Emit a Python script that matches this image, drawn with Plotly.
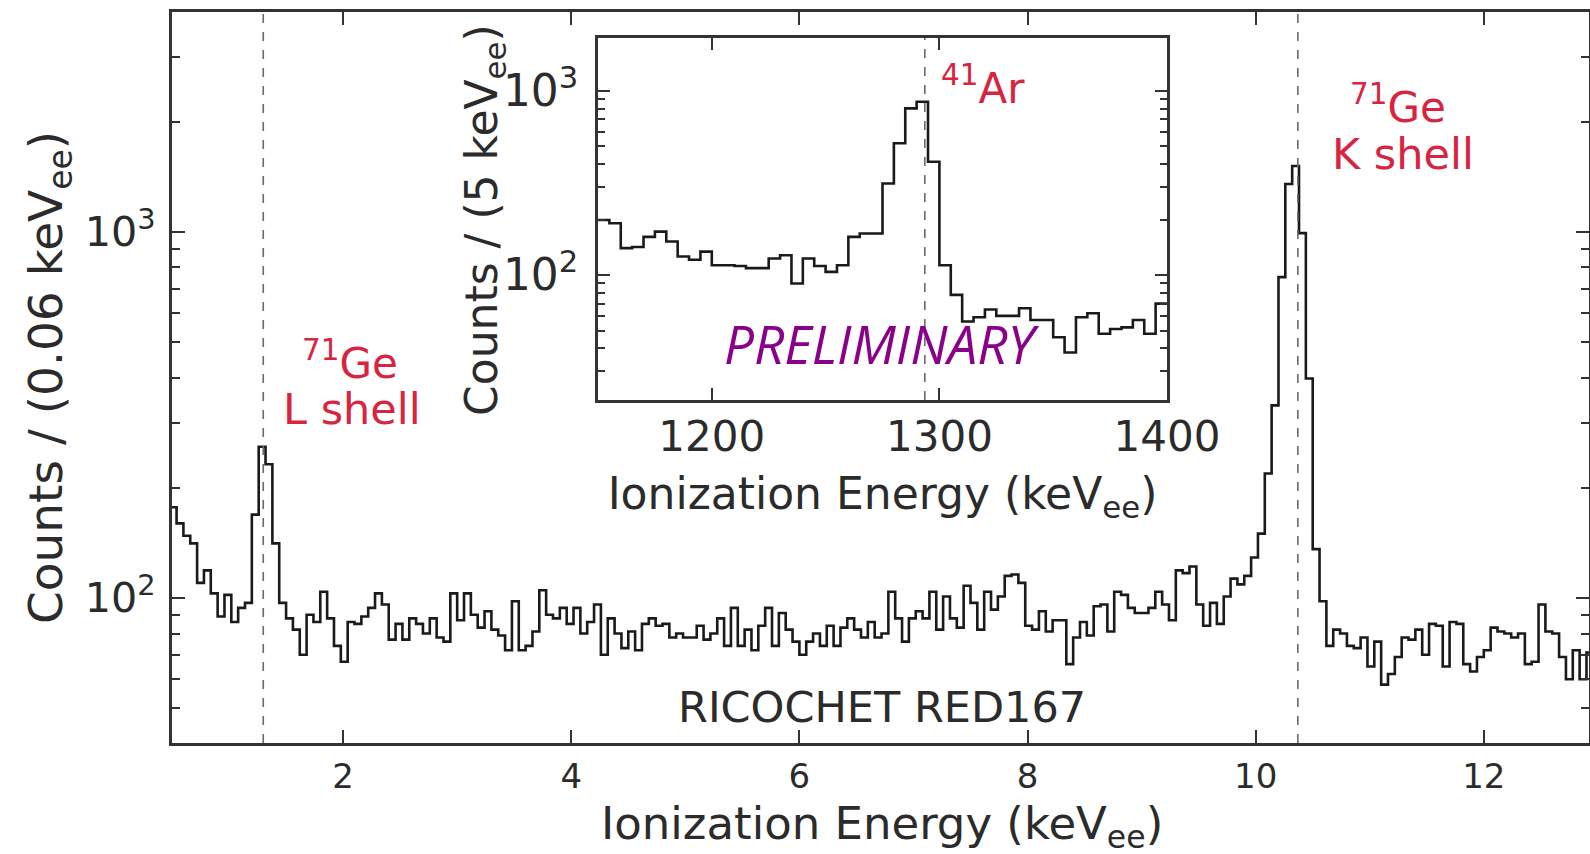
import plotly.graph_objects as go

# ---------------- data ----------------
# Main spectrum: counts per 0.06 keV bin, first bin starts at 0.48 keV
main_bin_start = 0.48
main_bin_width = 0.06
main_counts = [
    177, 160, 148, 141, 110, 119, 103, 89, 102, 86,
    94, 97, 169, 259, 232, 141, 97, 88, 82, 70,
    90, 86, 104, 88, 74, 67, 86, 85, 89, 94,
    103, 96, 77, 85, 77, 88, 85, 80, 88, 78,
    76, 103, 87, 103, 90, 83, 92, 82, 79, 72,
    98, 72, 74,
    81, 105, 90, 88, 94, 85, 94, 80, 86, 96,
    70, 88, 80, 73, 81, 72, 85, 88, 84, 85,
    78, 80, 78, 78, 84, 77, 80, 88, 74, 94,
    74, 82, 72, 84, 94, 74, 91, 82, 76, 70,
    76, 80, 74, 84, 74, 83, 88, 82, 78, 86,
    78, 80, 104, 88, 76, 88, 92, 88, 104, 82,
    101, 88, 83, 108, 97, 82, 104, 93, 101, 115,
    116, 110, 84, 82, 92, 81, 87, 87, 66, 78,
    86, 79, 95, 96, 81, 104, 102, 94, 91, 91,
    94, 104, 96, 87, 119, 117, 122, 96, 84, 97, 85,
    101, 113, 109, 115, 129, 150, 219, 336, 753, 1353,
    1515, 993, 398, 136, 98, 74, 82, 80, 74, 73,
    78, 65, 76, 58, 62, 69, 78, 77, 82, 70,
    85, 84, 65, 86, 85, 66, 63, 69, 72, 83,
    81, 80, 78, 80, 66, 67, 96, 81, 80, 69,
    60, 72, 60, 71,
]
main_lines = [1.3, 10.37]          # 71Ge L and K shell energies (keV)
main_xticks = [2, 4, 6, 8, 10, 12]

# Inset: counts per 5 keV bin from 1150 keV
inset_bin_start = 1150
inset_bin_width = 5
inset_counts = [
    199, 191, 140, 142, 161, 172, 152, 126, 121, 134,
    113, 113, 112, 109, 109, 123, 128, 90, 123, 112,
    104, 113, 161, 168, 168, 314, 519, 802, 871, 412,
    113, 78, 56, 59, 65, 60, 60, 66, 57, 57,
    46, 38, 59, 62, 48, 51, 52, 57, 48, 70,
]
inset_lines = [1293.6]             # 41Ar gamma line (keV)
inset_xticks = [1200, 1300, 1400]

# ---------------- figure ----------------
def edges(start, width, n):
    return [start + width * i for i in range(n + 1)]

main_x = edges(main_bin_start, main_bin_width, len(main_counts))
main_y = main_counts + [main_counts[-1]]
inset_x = edges(inset_bin_start, inset_bin_width, len(inset_counts))
inset_y = inset_counts + [inset_counts[-1]]

FONT = "DejaVu Sans"
TXT = "#2b2b2b"
RED = "#d8243f"
LINE = "#1a1a1a"

fig = go.Figure()
fig.add_trace(go.Scatter(x=main_x, y=main_y, mode="lines", line_shape="hv",
                         line=dict(color=LINE, width=2.6), xaxis="x", yaxis="y",
                         showlegend=False, hoverinfo="skip"))
fig.add_trace(go.Scatter(x=inset_x, y=inset_y, mode="lines", line_shape="hv",
                         line=dict(color=LINE, width=2.6), xaxis="x2", yaxis="y2",
                         showlegend=False, hoverinfo="skip"))

for e in main_lines:
    fig.add_shape(type="line", xref="x", yref="y domain", x0=e, x1=e, y0=0, y1=1,
                  line=dict(color="#6a6a6a", width=1.6, dash="dash"))
for e in inset_lines:
    fig.add_shape(type="line", xref="x2", yref="y2 domain", x0=e, x1=e, y0=0, y1=1,
                  line=dict(color="#6a6a6a", width=1.6, dash="dash"))

axis_common = dict(showline=True, linewidth=2.6, linecolor="#333", mirror="ticks",
                   ticks="inside", tickwidth=2, tickcolor="#333", showgrid=False,
                   zeroline=False, automargin=False)

W, H = 1590, 854
L, R, T, B = 172, 1, 12, 111
pw, ph = W - L - R, H - T - B
ix0, ix1, iy0, iy1 = 598, 1167, 38, 400

fig.update_layout(
    width=W, height=H, margin=dict(l=L, r=R, t=T, b=B, autoexpand=False),
    paper_bgcolor="white", plot_bgcolor="white",
    xaxis=dict(**axis_common, range=[0.5, 0.5 + pw / 114.07], tickvals=main_xticks,
               ticklen=13, ticklabelstandoff=1,
               tickfont=dict(family=FONT, size=34, color=TXT)),
    yaxis=dict(**axis_common, type="log", range=[1.604, 3.601], dtick=1,
               exponentformat="power", ticklen=13, ticklabelstandoff=7,
               tickfont=dict(family=FONT, size=33, color=TXT),
               minor=dict(ticks="inside", ticklen=8, tickwidth=1.6, tickcolor="#333",
                          dtick="D1", showgrid=False),
               title=dict(text="Counts / (0.06 keV<sub>ee</sub>)",
                          font=dict(family=FONT, size=47, color=TXT), standoff=8)),
    xaxis2=dict(**axis_common, anchor="y2",
                domain=[(ix0 - L) / pw, (ix1 - L) / pw],
                range=[1150, 1400], tickvals=inset_xticks, ticklen=12,
                ticklabelstandoff=-2,
                tickfont=dict(family=FONT, size=42, color=TXT),
                title=dict(text="Ionization Energy (keV<sub>ee</sub>)",
                           font=dict(family=FONT, size=44, color=TXT), standoff=18)),
    yaxis2=dict(**axis_common, anchor="x2", type="log",
                domain=[(H - B - iy1) / ph, (H - B - iy0) / ph],
                range=[1.322, 3.286], dtick=1, exponentformat="power",
                ticklen=12, ticklabelstandoff=10,
                tickfont=dict(family=FONT, size=35, color=TXT),
                minor=dict(ticks="inside", ticklen=7, tickwidth=1.6, tickcolor="#333",
                           dtick="D1", showgrid=False)),
)

def dom_x(px):
    return (px - L) / pw

def dom_y(py):
    return (H - B - py) / ph

ann = [
    ("<sup>71</sup>Ge", 350, 360, RED, 42, FONT, 0),
    ("L shell", 352, 409, RED, 43, FONT, 0),
    ("<sup>71</sup>Ge", 1398, 104, RED, 42, FONT, 0),
    ("K shell", 1403, 154, RED, 43, FONT, 0),
    ("<sup>41</sup>Ar", 983, 86, RED, 42, FONT, 0),
    ("RICOCHET RED167", 882, 707, TXT, 43, FONT, 0),
    ("<i>PRELIMINARY</i>", 881, 343, "#8B008B", 53, "Open Sans", 0),
    ("Counts / (5 keV<sub>ee</sub>)", 484, 220, TXT, 44, FONT, -90),
    ("Ionization Energy (keV<sub>ee</sub>)", 882, 826, TXT, 45, FONT, 0),
]
for text, px, py, col, size, fam, ang in ann:
    fig.add_annotation(text=text, xref="x domain", yref="y domain",
                       x=dom_x(px), y=dom_y(py), xanchor="center", yanchor="middle",
                       textangle=ang, showarrow=False,
                       font=dict(family=fam, size=size, color=col))

fig.write_html("out.html")
